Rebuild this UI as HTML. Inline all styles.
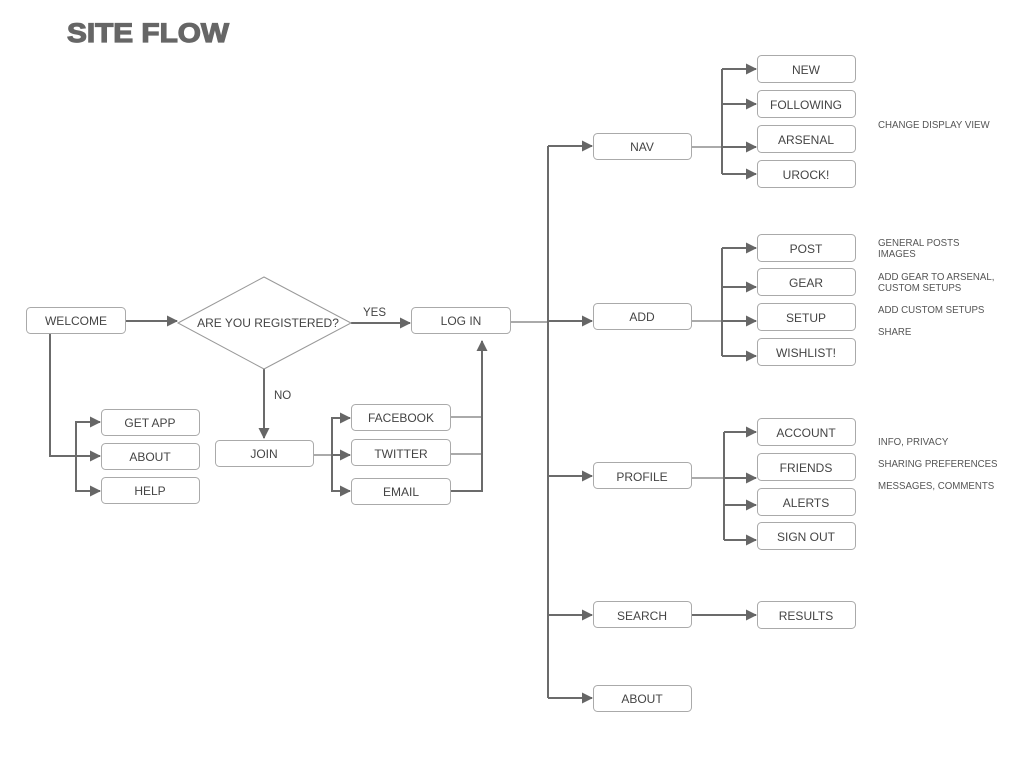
<!DOCTYPE html>
<html><head><meta charset="utf-8"><style>
body{margin:0;background:#fff}
svg{display:block}
text{font-family:"Liberation Sans",sans-serif;fill:#444}
.b{fill:#fff;stroke:#aaa;stroke-width:1}
.t{font-size:12px;text-anchor:middle}
.n{font-size:9.7px;fill:#555}
.l{fill:none;stroke:#6b6b6b;stroke-width:2}
.l1{fill:none;stroke:#777;stroke-width:1.3}
</style></head><body>
<svg width="1020" height="768" viewBox="0 0 1020 768">
<defs><marker id="a" markerWidth="12" markerHeight="12" refX="10" refY="5.5" orient="auto" markerUnits="userSpaceOnUse"><path d="M0,0 L11,5.5 L0,11 z" fill="#666"/></marker></defs>
<text x="67" y="42" textLength="162" lengthAdjust="spacingAndGlyphs" style="font-family:'Liberation Sans',sans-serif;font-weight:bold;font-size:27px;fill:#666;stroke:#666;stroke-width:1.2">SITE FLOW</text>

<path class="l" d="M126,321 L177,321" marker-end="url(#a)"/>
<path class="l" d="M351,323 L410,323" marker-end="url(#a)"/>
<path class="l" d="M50,333 L50,456 L100,456" marker-end="url(#a)"/>
<path class="l" d="M100,422 L76,422 L76,491 L100,491" marker-end="url(#a)"/>
<path class="l" d="M76,422 L100,422" marker-end="url(#a)"/>
<path class="l" d="M264,369 L264,438" marker-end="url(#a)"/>
<path class="l1" d="M314,455 L332,455"/>
<path class="l" d="M332,455 L350,455" marker-end="url(#a)"/>
<path class="l" d="M350,418 L332,418 L332,491 L350,491" marker-end="url(#a)"/>
<path class="l" d="M332,418 L350,418" marker-end="url(#a)"/>
<path class="l1" d="M450,417 L482,417 M450,454 L482,454"/>
<path class="l" d="M450,491 L482,491 L482,341" marker-end="url(#a)"/>

<path class="l1" d="M510,322 L548,322"/>
<path class="l" d="M548,146 L548,698"/>
<path class="l" d="M548,146 L592,146" marker-end="url(#a)"/>
<path class="l" d="M548,321 L592,321" marker-end="url(#a)"/>
<path class="l" d="M548,476 L592,476" marker-end="url(#a)"/>
<path class="l" d="M548,615 L592,615" marker-end="url(#a)"/>
<path class="l" d="M548,698 L592,698" marker-end="url(#a)"/>

<path class="l1" d="M691,147 L722,147"/>
<path class="l" d="M722,69 L722,174"/>
<path class="l" d="M722,69 L756,69" marker-end="url(#a)"/>
<path class="l" d="M722,104 L756,104" marker-end="url(#a)"/>
<path class="l" d="M722,147 L756,147" marker-end="url(#a)"/>
<path class="l" d="M722,174 L756,174" marker-end="url(#a)"/>
<path class="l1" d="M691,321 L722,321"/>
<path class="l" d="M722,248 L722,356"/>
<path class="l" d="M722,248 L756,248" marker-end="url(#a)"/>
<path class="l" d="M722,287 L756,287" marker-end="url(#a)"/>
<path class="l" d="M722,321 L756,321" marker-end="url(#a)"/>
<path class="l" d="M722,356 L756,356" marker-end="url(#a)"/>
<path class="l1" d="M691,478 L724,478"/>
<path class="l" d="M724,432 L724,540"/>
<path class="l" d="M724,432 L756,432" marker-end="url(#a)"/>
<path class="l" d="M724,478 L756,478" marker-end="url(#a)"/>
<path class="l" d="M724,505 L756,505" marker-end="url(#a)"/>
<path class="l" d="M724,540 L756,540" marker-end="url(#a)"/>
<path class="l" d="M691,615 L756,615" marker-end="url(#a)"/>

<polygon points="178,323 264,277 351,323 264,369" fill="#fff" stroke="#999" stroke-width="1"/>
<text class="t" x="268" y="327">ARE YOU REGISTERED?</text>
<text x="363" y="316" style="font-size:11.5px">YES</text>
<text x="274" y="399" style="font-size:11.5px">NO</text>

<g>
<rect class="b" x="26.5" y="307.5" width="99" height="26" rx="4"/><text class="t" x="76" y="325">WELCOME</text>
<rect class="b" x="411.5" y="307.5" width="99" height="26" rx="4"/><text class="t" x="461" y="325">LOG IN</text>
<rect class="b" x="101.5" y="409.5" width="98" height="26" rx="4"/><text class="t" x="150" y="427">GET APP</text>
<rect class="b" x="101.5" y="443.5" width="98" height="26" rx="4"/><text class="t" x="150" y="461">ABOUT</text>
<rect class="b" x="101.5" y="477.5" width="98" height="26" rx="4"/><text class="t" x="150" y="495">HELP</text>
<rect class="b" x="215.5" y="440.5" width="98" height="26" rx="4"/><text class="t" x="264" y="458">JOIN</text>
<rect class="b" x="351.5" y="404.5" width="99" height="26" rx="4"/><text class="t" x="401" y="422">FACEBOOK</text>
<rect class="b" x="351.5" y="439.5" width="99" height="26" rx="4"/><text class="t" x="401" y="458">TWITTER</text>
<rect class="b" x="351.5" y="478.5" width="99" height="26" rx="4"/><text class="t" x="401" y="496">EMAIL</text>

<rect class="b" x="593.5" y="133.5" width="98" height="26" rx="4"/><text class="t" x="642" y="151">NAV</text>
<rect class="b" x="593.5" y="303.5" width="98" height="26" rx="4"/><text class="t" x="642" y="321">ADD</text>
<rect class="b" x="593.5" y="462.5" width="98" height="26" rx="4"/><text class="t" x="642" y="481">PROFILE</text>
<rect class="b" x="593.5" y="601.5" width="98" height="26" rx="4"/><text class="t" x="642" y="620">SEARCH</text>
<rect class="b" x="593.5" y="685.5" width="98" height="26" rx="4"/><text class="t" x="642" y="703">ABOUT</text>

<rect class="b" x="757.5" y="55.5" width="98" height="27" rx="4"/><text class="t" x="806" y="74">NEW</text>
<rect class="b" x="757.5" y="90.5" width="98" height="27" rx="4"/><text class="t" x="806" y="109">FOLLOWING</text>
<rect class="b" x="757.5" y="125.5" width="98" height="27" rx="4"/><text class="t" x="806" y="144">ARSENAL</text>
<rect class="b" x="757.5" y="160.5" width="98" height="27" rx="4"/><text class="t" x="806" y="179">UROCK!</text>

<rect class="b" x="757.5" y="234.5" width="98" height="27" rx="4"/><text class="t" x="806" y="253">POST</text>
<rect class="b" x="757.5" y="268.5" width="98" height="27" rx="4"/><text class="t" x="806" y="287">GEAR</text>
<rect class="b" x="757.5" y="303.5" width="98" height="27" rx="4"/><text class="t" x="806" y="322">SETUP</text>
<rect class="b" x="757.5" y="338.5" width="98" height="27" rx="4"/><text class="t" x="806" y="357">WISHLIST!</text>

<rect class="b" x="757.5" y="418.5" width="98" height="27" rx="4"/><text class="t" x="806" y="437">ACCOUNT</text>
<rect class="b" x="757.5" y="453.5" width="98" height="27" rx="4"/><text class="t" x="806" y="472">FRIENDS</text>
<rect class="b" x="757.5" y="488.5" width="98" height="27" rx="4"/><text class="t" x="806" y="507">ALERTS</text>
<rect class="b" x="757.5" y="522.5" width="98" height="27" rx="4"/><text class="t" x="806" y="541">SIGN OUT</text>
<rect class="b" x="757.5" y="601.5" width="98" height="27" rx="4"/><text class="t" x="806" y="620">RESULTS</text>
</g>

<text class="n" x="878" y="128">CHANGE DISPLAY VIEW</text>
<text class="n" x="878" y="246">GENERAL POSTS</text>
<text class="n" x="878" y="257">IMAGES</text>
<text class="n" x="878" y="280">ADD GEAR TO ARSENAL,</text>
<text class="n" x="878" y="291">CUSTOM SETUPS</text>
<text class="n" x="878" y="313">ADD CUSTOM SETUPS</text>
<text class="n" x="878" y="335">SHARE</text>
<text class="n" x="878" y="445">INFO, PRIVACY</text>
<text class="n" x="878" y="467">SHARING PREFERENCES</text>
<text class="n" x="878" y="489">MESSAGES, COMMENTS</text>
</svg>
</body></html>
